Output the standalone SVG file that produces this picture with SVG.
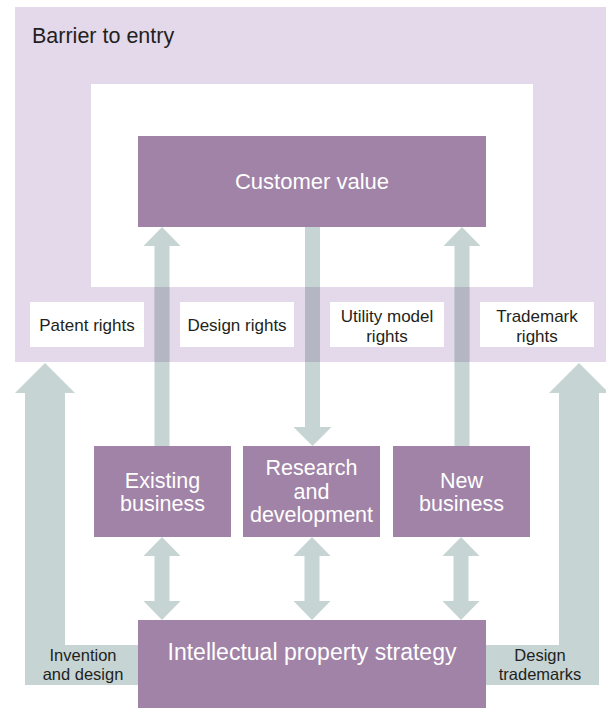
<svg xmlns="http://www.w3.org/2000/svg" width="606" height="708" viewBox="0 0 606 708">
<style>
.bg{fill:#e3d9eb}
.box{fill:#a083a7}
.wbox{fill:#ffffff}
.arr{fill:#c6d4d4}
.ov{fill:#b4b6c4}
.t{font-family:"Liberation Sans",Arial,sans-serif;fill:#231f20}
.tw{font-family:"Liberation Sans",Arial,sans-serif;fill:#ffffff;text-anchor:middle}
.c{text-anchor:middle}
</style>
<rect width="606" height="708" fill="#ffffff"/>
<g id="barrier">
<rect class="bg" x="15" y="7" width="591" height="355"/>
<rect class="wbox" x="91" y="84" width="442" height="203"/>
<text class="t" x="32" y="43" font-size="21.5">Barrier to entry</text>
</g>
<g id="connectors">
<rect class="arr" x="154.5" y="245" width="15" height="201"/>
<polygon class="arr" points="143.5,246 162,227 180.5,246"/>
<rect class="arr" x="305" y="227" width="15" height="201"/>
<polygon class="arr" points="293.5,427 312.5,446 331.5,427"/>
<rect class="arr" x="454.5" y="245" width="15" height="201"/>
<polygon class="arr" points="443.5,246 462,227 480.5,246"/>
<rect class="ov" x="154.5" y="287" width="15" height="75"/>
<rect class="ov" x="305" y="287" width="15" height="75"/>
<rect class="ov" x="454.5" y="287" width="15" height="75"/>
<path class="arr" d="M162,537 L180.5,556 L169.5,556 L169.5,601 L180.5,601 L162,620 L143.5,601 L154.5,601 L154.5,556 L143.5,556 Z"/>
<path class="arr" d="M312,537 L330.5,556 L319.5,556 L319.5,601 L330.5,601 L312,620 L293.5,601 L304.5,601 L304.5,556 L293.5,556 Z"/>
<path class="arr" d="M461,537 L479.5,556 L468.5,556 L468.5,601 L479.5,601 L461,620 L442.5,601 L453.5,601 L453.5,556 L442.5,556 Z"/>
<path class="arr" d="M45,363 L75,393 L65,393 L65,645 L138,645 L138,685 L25,685 L25,393 L15,393 Z"/>
<path class="arr" d="M579,363 L609,393 L599,393 L599,685 L486,685 L486,645 L559,645 L559,393 L549,393 Z"/>
<text class="t c" font-size="16.5"><tspan x="83" y="660.5">Invention</tspan><tspan x="83" y="679.5">and design</tspan></text>
<text class="t c" font-size="16.5"><tspan x="540" y="660.5">Design</tspan><tspan x="540" y="679.5">trademarks</tspan></text>
</g>
<g id="customer-value">
<rect class="box" x="138" y="136" width="348" height="91"/>
<text class="tw" x="312" y="189" font-size="22">Customer value</text>
</g>
<g id="patent-rights">
<rect class="wbox" x="30" y="302" width="114" height="45"/>
<text class="t c" x="87" y="331" font-size="17">Patent rights</text>
</g>
<g id="design-rights">
<rect class="wbox" x="180" y="302" width="114" height="45"/>
<text class="t c" x="237" y="331" font-size="17">Design rights</text>
</g>
<g id="utility-model-rights">
<rect class="wbox" x="330" y="302" width="114" height="45"/>
<text class="t c" font-size="17"><tspan x="387" y="321.5">Utility model</tspan><tspan x="387" y="341.5">rights</tspan></text>
</g>
<g id="trademark-rights">
<rect class="wbox" x="480" y="302" width="114" height="45"/>
<text class="t c" font-size="17"><tspan x="537" y="321.5">Trademark</tspan><tspan x="537" y="341.5">rights</tspan></text>
</g>
<g id="existing-business">
<rect class="box" x="94" y="446" width="137" height="91"/>
<text class="tw" font-size="21.5"><tspan x="162.5" y="488">Existing</tspan><tspan x="162.5" y="511">business</tspan></text>
</g>
<g id="research-development">
<rect class="box" x="243" y="446" width="137" height="91"/>
<text class="tw" font-size="21.5"><tspan x="311.5" y="475">Research</tspan><tspan x="311.5" y="498.5">and</tspan><tspan x="311.5" y="522">development</tspan></text>
</g>
<g id="new-business">
<rect class="box" x="393" y="446" width="137" height="91"/>
<text class="tw" font-size="21.5"><tspan x="461.5" y="488">New</tspan><tspan x="461.5" y="511">business</tspan></text>
</g>
<g id="ip-strategy">
<rect class="box" x="138" y="620" width="348" height="88"/>
<text class="tw" x="312" y="660" font-size="23">Intellectual property strategy</text>
</g>
</svg>
